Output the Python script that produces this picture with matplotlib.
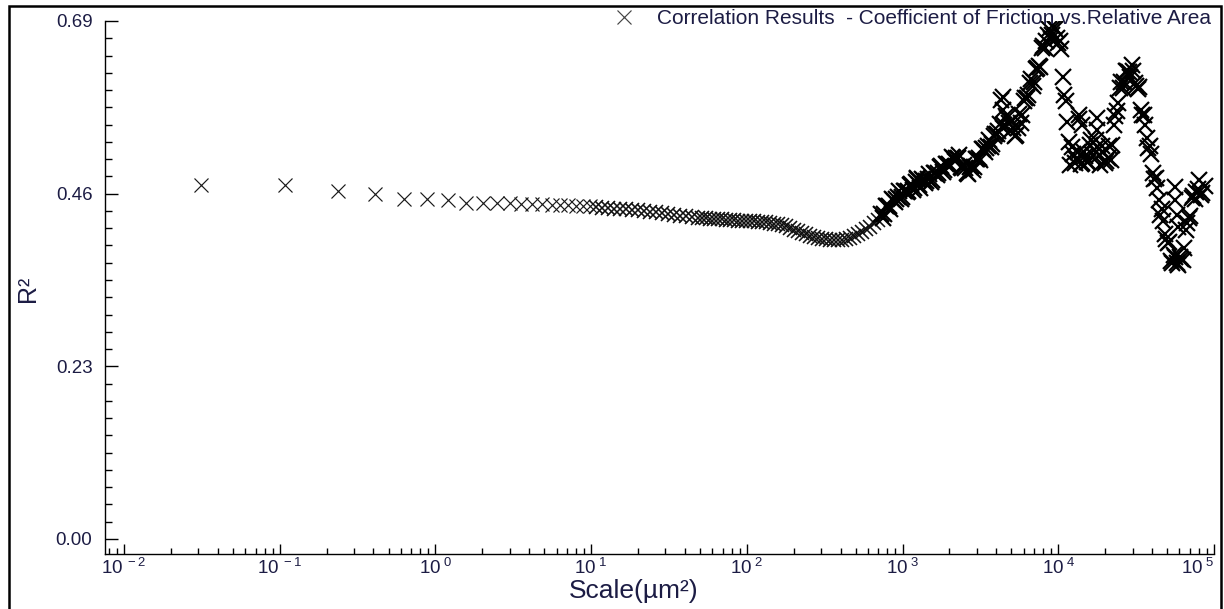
import matplotlib
matplotlib.use('Agg')
import matplotlib.pyplot as plt
from matplotlib.ticker import FixedLocator, FixedFormatter, MultipleLocator, LogLocator, NullFormatter
from matplotlib.patches import Rectangle
import numpy as np

plt.rcParams['font.family'] = ['Liberation Sans', 'DejaVu Sans']
plt.rcParams['mathtext.fontset'] = 'custom'
plt.rcParams['mathtext.rm'] = 'Liberation Sans'
plt.rcParams['mathtext.it'] = 'Liberation Sans:italic'
plt.rcParams['mathtext.bf'] = 'Liberation Sans:bold'

# ---- data ----
# sparse points at the small scales (um^2)
scale_small = [0.031, 0.108, 0.236, 0.409, 0.631, 0.88, 1.20, 1.57, 2.01, 2.48,
               3.00, 3.57, 4.19, 4.85, 5.57, 6.34, 7.15, 8.01, 8.93, 9.88]
r2_small = [0.472, 0.472, 0.463, 0.459, 0.453, 0.453, 0.451, 0.448, 0.447, 0.447,
            0.447, 0.446, 0.446, 0.446, 0.445, 0.445, 0.445, 0.443, 0.443, 0.443]

# middle stretch, 10 .. 700 um^2
scale_mid = [10.8, 11.8, 12.8, 14.0, 15.3, 16.8, 18.3, 20.0, 21.9, 23.9,
             26.1, 28.5, 31.2, 34.1, 37.2, 40.7, 44.5, 48.6,
             51.6, 54.7, 58.0, 61.6, 65.3, 69.3, 73.5, 78.0, 82.7, 87.8,
             93.1, 98.8, 104.8, 111.2, 117.9, 125.1, 132.7, 140.8, 149.4, 158.5,
             168.1, 178.4, 189.2, 200.8, 213.0, 226.0, 239.7, 254.3, 269.8, 286.3,
             303.7, 322.2, 341.8, 362.6, 384.7, 408.2, 433.0, 459.4, 487.4, 517.1,
             548.6, 582.0, 617.4, 655.0, 694.9]
r2_mid = [0.442, 0.4414, 0.4408, 0.4402, 0.440, 0.4393, 0.4385, 0.4378, 0.437, 0.436,
          0.4352, 0.4343, 0.4333, 0.4322, 0.4306, 0.4298, 0.4290, 0.4282,
          0.4276, 0.427, 0.4266, 0.4263, 0.426, 0.4258, 0.4255, 0.4253, 0.4246, 0.4242,
          0.4237, 0.4235, 0.4233, 0.423, 0.4227, 0.4224, 0.422, 0.4213, 0.4202, 0.419,
          0.418, 0.4166, 0.4146, 0.412, 0.410, 0.408, 0.4066, 0.404, 0.4026, 0.401,
          0.400, 0.399, 0.398, 0.398, 0.398, 0.398, 0.399, 0.4007, 0.4033, 0.406,
          0.4093, 0.4126, 0.416, 0.4205, 0.425]

# noisy large-scale part, 700 .. 88000 um^2
scale_large = [727.8, 760.8, 795.3, 831.4, 869.1, 908.5, 949.7, 992.8, 1037.8, 1084.9,
               1134.1, 1185.6, 1239.4, 1295.6, 1354.4, 1415.8, 1480.0, 1547.2, 1617.4, 1690.8,
               1767.5, 1847.7, 1931.5, 2019.1, 2110.7, 2206.5, 2306.6, 2411.2, 2520.6, 2635.0,
               2754.5, 2879.5, 3010.1, 3146.7, 3289.5, 3438.7, 3594.7, 3757.8, 3928.3, 4106.5,
               4292.8, 4487.5, 4691.1, 4903.9, 5126.4, 5359.0, 5602.1, 5856.3, 6122.0, 6399.7,
               6690.1, 6993.6, 7310.9, 7642.6, 7989.3, 8351.8, 8730.7, 9126.8, 9540.9, 9973.8,
               10426, 10899, 11394, 11911, 12451, 13016, 13606, 14224, 14869, 15544,
               16249, 16986, 17757, 18563, 19405, 20285, 21206, 22168, 23174, 24225,
               25324, 26473, 27674, 28930, 30242, 31614, 33049, 34548, 36116, 37754,
               39467, 41258, 43130, 45086, 47132, 49270, 51506, 53843, 56286, 58840,
               61509, 64300, 67218, 70267, 73455, 76788, 80272, 83914, 87722]
r2_large = [0.433, 0.433, 0.444, 0.440, 0.452, 0.453, 0.463, 0.456, 0.464, 0.463,
            0.473, 0.468, 0.480, 0.467, 0.478, 0.477, 0.486, 0.478, 0.487, 0.487,
            0.497, 0.492, 0.500, 0.497, 0.508, 0.507, 0.511, 0.494, 0.494, 0.486,
            0.497, 0.496, 0.506, 0.505, 0.519, 0.521, 0.531, 0.526, 0.539, 0.543,
            0.585, 0.551, 0.561, 0.544, 0.548, 0.538, 0.566, 0.565, 0.588, 0.592,
            0.613, 0.609, 0.627, 0.629, 0.657, 0.664, 0.680, 0.671, 0.679, 0.661,
            0.653, 0.591, 0.555, 0.498, 0.513, 0.506, 0.560, 0.501, 0.510, 0.502,
            0.531, 0.518, 0.522, 0.498, 0.515, 0.504, 0.523, 0.525, 0.564, 0.581,
            0.609, 0.609, 0.624, 0.616, 0.623, 0.604, 0.602, 0.565, 0.551, 0.521,
            0.513, 0.480, 0.467, 0.432, 0.424, 0.400, 0.395, 0.368, 0.375, 0.365,
            0.373, 0.387, 0.421, 0.430, 0.457, 0.462, 0.478, 0.461, 0.470]

# the points lying between the ones above (the band is very dense there)
scale_large_b = [744.1, 777.8, 813.1, 850.0, 888.6, 928.9, 971.0, 1015.0, 1061.0, 1109.2,
                 1159.5, 1212.2, 1267.2, 1324.6, 1384.7, 1447.5, 1513.2, 1581.9, 1653.6, 1728.7,
                 1807.1, 1889.1, 1974.8, 2064.3, 2158.0, 2255.9, 2358.3, 2465.2, 2577.1, 2694.0,
                 2816.2, 2944.0, 3077.5, 3217.2, 3363.2, 3515.7, 3675.2, 3842.0, 4016.3, 4198.5,
                 4389.0, 4588.0, 4796.2, 5013.7, 5241.2, 5479.0, 5727.6, 5987.5, 6259.1, 6543.1,
                 6840.0, 7150.3, 7474.7, 7813.8, 8168.3, 8538.9, 8926.3, 9331.2, 9754.6, 10197,
                 10660, 11143, 11649, 12178, 12730, 13308, 13911, 14543, 15202, 15892,
                 16613, 17366, 18155, 18979, 19840, 20739, 21681, 22665, 23693, 24768,
                 25891, 27066, 28294, 29578, 30919, 32322, 33789, 35322, 36925, 38600,
                 40351, 42182, 44096, 46096, 48188, 50374, 52660, 55049, 57547, 60158,
                 62887, 65740, 68724, 71841, 75100, 78508, 82070]
r2_large_b = [0.428, 0.443, 0.443, 0.453, 0.449, 0.456, 0.453, 0.464, 0.462, 0.471,
              0.465, 0.476, 0.471, 0.479, 0.474, 0.479, 0.475, 0.487, 0.485, 0.495,
              0.489, 0.500, 0.499, 0.509, 0.504, 0.507, 0.496, 0.498, 0.488, 0.495,
              0.491, 0.506, 0.507, 0.519, 0.516, 0.524, 0.522, 0.537, 0.539, 0.553,
              0.547, 0.563, 0.554, 0.557, 0.537, 0.548, 0.554, 0.583, 0.588, 0.608,
              0.603, 0.626, 0.630, 0.654, 0.654, 0.671, 0.666, 0.682, 0.667, 0.663,
              0.615, 0.584, 0.529, 0.522, 0.501, 0.515, 0.500, 0.516, 0.502, 0.525,
              0.511, 0.531, 0.512, 0.523, 0.501, 0.508, 0.505, 0.552, 0.570, 0.601,
              0.601, 0.624, 0.622, 0.631, 0.608, 0.600, 0.572, 0.565, 0.534, 0.523,
              0.488, 0.481, 0.451, 0.439, 0.406, 0.394, 0.370, 0.378, 0.368, 0.375,
              0.372, 0.411, 0.427, 0.454, 0.453, 0.466, 0.458]

# stray points sitting off the main band
scale_stray = [1239.4, 4420, 4420, 13606, 14224, 17757, 17757, 56286, 56286, 57500, 58840]
r2_stray = [0.481, 0.589, 0.572, 0.565, 0.552, 0.561, 0.545, 0.469, 0.452, 0.432, 0.415]

y_ticks = [0.00, 0.23, 0.46, 0.69]
y_tick_labels = ['0.00', '0.23', '0.46', '0.69']
x_ticks = [1e-2, 1e-1, 1e0, 1e1, 1e2, 1e3, 1e4, 1e5]
x_tick_labels = [r'$10^{\ -2}$', r'$10^{\ -1}$', r'$10^{\ 0}$', r'$10^{\ 1}$',
                 r'$10^{\ 2}$', r'$10^{\ 3}$', r'$10^{\ 4}$', r'$10^{\ 5}$']
series_label = 'Correlation Results  - Coefficient of Friction vs.Relative Area'

scale_hi = np.concatenate([scale_large, scale_large_b, scale_stray])
r2_hi = np.concatenate([r2_large, r2_large_b, r2_stray])

txt_col = '#1c1c44'

fig = plt.figure(figsize=(12.24, 6.09), dpi=100)
ax = fig.add_axes([105 / 1224, 1 - 554 / 609, (1214 - 105) / 1224, (554 - 21) / 609])

ax.plot(scale_small, r2_small, linestyle='none', marker='x', ms=9.5, mew=0.85,
        color='#1a1a1a', label=series_label)
ax.plot(scale_mid, r2_mid, linestyle='none', marker='x', ms=10, mew=1.15, color='#111111')
ax.plot(scale_hi, r2_hi, linestyle='none', marker='x', ms=12, mew=1.6, color='black')

ax.set_xscale('log')
ax.set_xlim(0.00755, 1.0e5)
ax.set_ylim(-0.020, 0.69)

ax.xaxis.set_major_locator(FixedLocator(x_ticks))
ax.xaxis.set_major_formatter(FixedFormatter(x_tick_labels))
ax.xaxis.set_minor_locator(LogLocator(base=10, subs=np.arange(2, 10), numticks=20))
ax.xaxis.set_minor_formatter(NullFormatter())
ax.yaxis.set_major_locator(FixedLocator(y_ticks))
ax.yaxis.set_major_formatter(FixedFormatter(y_tick_labels))
ax.yaxis.set_minor_locator(MultipleLocator(0.023))

ax.tick_params(axis='both', which='both', direction='in', width=1.0, color='black',
               labelcolor=txt_col, labelsize=13.5)
ax.tick_params(axis='x', which='major', length=7.5, pad=3)
ax.tick_params(axis='x', which='minor', length=4)
ax.tick_params(axis='y', which='major', length=9.5, pad=9)
ax.tick_params(axis='y', which='minor', length=5)

# last decade label sits at the very edge, keep it inside
fig.canvas.draw()
ax.get_xticklabels()[-1].set_horizontalalignment('right')

for s in ['top', 'right']:
    ax.spines[s].set_visible(False)
for s in ['left', 'bottom']:
    ax.spines[s].set_linewidth(1.0)

ax.set_xlabel('Scale(µm²)', fontsize=19, color=txt_col)
ax.xaxis.set_label_coords((634 - 105) / 1109, (554 - 579) / 533)
ax.set_ylabel('R²', fontsize=18, color=txt_col)
ax.yaxis.set_label_coords((40 - 105) / 1109, (554 - 289) / 533)

leg = ax.legend(loc='center right', bbox_to_anchor=(1211 / 1224, 1 - 19 / 609),
                bbox_transform=fig.transFigure, frameon=False, fontsize=15,
                handlelength=1.0, handletextpad=1.09, borderpad=0, borderaxespad=0,
                labelcolor=txt_col)
for h in leg.legend_handles:
    h.set_color('#444444')

# outer frame round the picture
fig.patches.append(Rectangle((9 / 1224, -0.02), (1221 - 9) / 1224, 1.02 - 6 / 609,
                             transform=fig.transFigure, fill=False,
                             edgecolor='black', linewidth=1.8))

fig.savefig('out.png', dpi=100)
